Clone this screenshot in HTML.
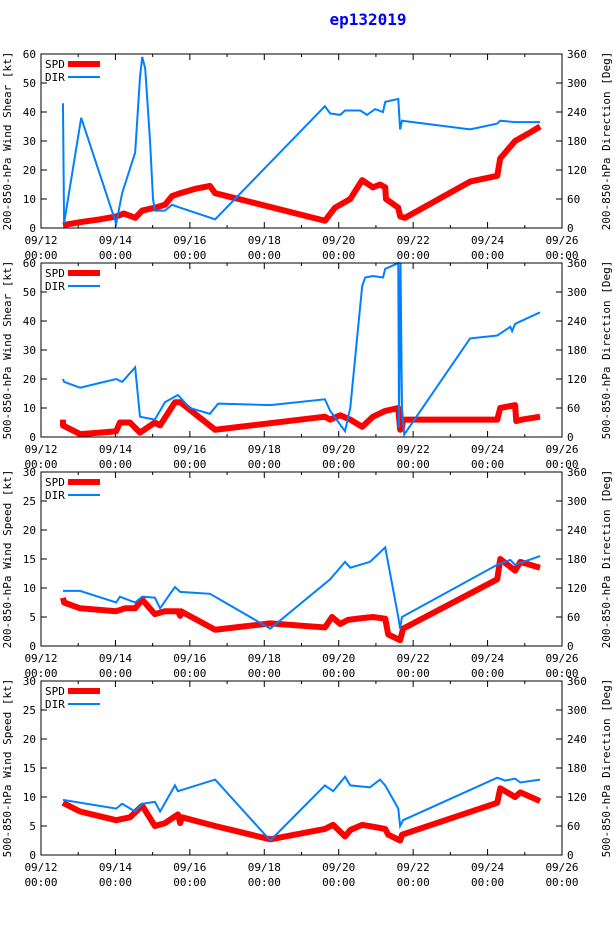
<!DOCTYPE html>
<html><head><meta charset="utf-8"><style>
body{margin:0;background:#fff}
svg{display:block;font-family:"DejaVu Sans Mono","Liberation Mono",monospace}
</style></head><body>
<svg id="c" width="614" height="936">
<text x="368" y="25" text-anchor="middle" font-size="16" font-weight="bold" fill="#0000ff">ep132019</text>
</svg>
<script>
const xTickLabels=["09/12","09/14","09/16","09/18","09/20","09/22","09/24","09/26"];
const p1SpdT=[0.59,1.05,1.59,2.02,2.23,2.53,2.72,3.06,3.33,3.52,3.74,4.14,4.54,4.68,5.62,7.63,7.9,8.31,8.63,8.92,9.11,9.25,9.27,9.6,9.65,9.78,11.53,12.26,12.34,12.74,13.15,13.41];
const p1SpdV=[1,2,3,4,5,3.5,6,7,8,11,12,13.5,14.5,12,9,2.5,7,10,16.5,14,15,14,10,7,4,3.5,16,18,24,30,33,35];
const p1DirT=[0.59,0.62,1.08,2.02,2.18,2.53,2.66,2.72,2.80,2.93,3.01,3.06,3.33,3.52,3.74,4.68,7.63,7.77,8.04,8.17,8.58,8.76,8.98,9.19,9.25,9.6,9.65,9.7,11.53,12.26,12.34,12.74,13.41];
const p1DirV=[258,10,228,9,72,156,312,354,330,180,60,36,36,48,42,18,252,237,234,243,243,234,246,240,261,267,204,222,204,216,222,219,219];
const p2SpdT=[0.59,0.59,1.05,1.59,2.02,2.12,2.39,2.66,3.06,3.2,3.6,3.74,4.68,7.63,7.77,8.04,8.31,8.63,8.92,9.25,9.6,9.65,9.7,9.73,11.53,12.26,12.34,12.74,12.77,12.93,13.41];
const p2SpdV=[6,4,1,1.5,2,5,5,1.5,5,4,12,12,2.5,7,6,7.5,6,3.5,7,9,10,2.5,3,6,6,6,10,11,5.5,6,7];
const p2DirT=[0.59,0.62,1.05,2.02,2.18,2.53,2.66,3.06,3.33,3.68,4.0,4.54,4.76,6.16,7.63,7.77,8.17,8.31,8.63,8.71,8.92,9.19,9.25,9.52,9.6,9.62,9.66,9.7,9.76,11.53,12.26,12.61,12.66,12.74,13.41];
const p2DirV=[120,114,102,120,114,144,42,36,72,87,60,48,69,66,78,54,12,60,312,330,333,330,348,357,360,20,360,60,5,204,210,228,219,234,258];
const p3SpdT=[0.59,0.62,1.05,2.02,2.26,2.53,2.72,3.06,3.33,3.68,3.74,3.76,4.68,6.16,7.63,7.82,8.04,8.25,8.63,8.92,9.25,9.33,9.65,9.73,12.26,12.34,12.74,12.88,13.41];
const p3SpdV=[8.3,7.5,6.5,6,6.5,6.5,8,5.5,6,6,5.2,6,2.8,3.9,3.2,5,3.8,4.5,4.8,5,4.7,2,1,3,11.5,15,13,14.5,13.5];
const p3DirT=[0.59,1.05,2.02,2.12,2.53,2.72,3.06,3.2,3.47,3.6,3.74,4.54,5.08,6.16,7.77,8.17,8.31,8.84,9.25,9.6,9.65,9.7,12.26,12.61,12.74,13.41];
const p3DirV=[114,114,90,102,90,102,100,78,108,122,112,108,84,36,138,174,162,174,204,60,36,60,168,178,168,186];
const p4SpdT=[0.59,1.05,2.02,2.39,2.72,3.06,3.33,3.68,3.74,3.79,4.68,6.16,7.63,7.85,8.17,8.31,8.63,9.25,9.33,9.65,9.7,12.26,12.34,12.74,12.88,13.41];
const p4SpdV=[9,7.5,6,6.5,8.5,5,5.5,7,5.5,6.5,5,2.7,4.5,5.2,3.2,4.3,5.2,4.5,3.5,2.5,3.5,9,11.5,10,10.8,9.3];
const p4DirT=[0.59,2.02,2.18,2.53,2.72,3.06,3.2,3.6,3.68,4.68,6.16,7.63,7.85,8.17,8.31,8.84,9.11,9.25,9.6,9.65,9.73,12.26,12.47,12.74,12.88,13.41];
const p4DirV=[114,96,106,90,106,110,90,144,132,156,30,144,132,162,144,140,156,144,96,60,72,160,154,158,150,156];
const panels=[
 {top:54,lmax:60,lstep:10,yl:"200-850-hPa Wind Shear [kt]",yr:"200-850-hPa Direction [Deg]",st:p1SpdT,sv:p1SpdV,dt:p1DirT,dv:p1DirV},
 {top:263,lmax:60,lstep:10,yl:"500-850-hPa Wind Shear [kt]",yr:"500-850-hPa Direction [Deg]",st:p2SpdT,sv:p2SpdV,dt:p2DirT,dv:p2DirV},
 {top:472,lmax:30,lstep:5,yl:"200-850-hPa Wind Speed [kt]",yr:"200-850-hPa Direction [Deg]",st:p3SpdT,sv:p3SpdV,dt:p3DirT,dv:p3DirV},
 {top:681,lmax:30,lstep:5,yl:"500-850-hPa Wind Speed [kt]",yr:"500-850-hPa Direction [Deg]",st:p4SpdT,sv:p4SpdV,dt:p4DirT,dv:p4DirV}];
const NS="http://www.w3.org/2000/svg",svg=document.getElementById("c");
const L=41,R=562,H=174;
function X(d){return L+d*(R-L)/14;}
function mk(tag,at,par){const e=document.createElementNS(NS,tag);for(const k in at)e.setAttribute(k,at[k]);(par||svg).appendChild(e);return e;}
panels.forEach((p,i)=>{
 const g=mk("g",{});
 
 
 const B=p.top+H;
 const yL=v=>B-v/p.lmax*H, yR=v=>B-v/360*H;
 for(let d=0;d<=14;d++){const x=X(d),len=d%2?3:6;
  mk("line",{x1:x,y1:B,x2:x,y2:B-len,stroke:"#000"},g);mk("line",{x1:x,y1:p.top,x2:x,y2:p.top+len,stroke:"#000"},g);}
 xTickLabels.forEach((t,k)=>{const x=X(k*2);
  const a=mk("text",{x:x,y:B+16,"text-anchor":"middle","font-size":11},g);a.textContent=t;
  
  
  const b=mk("text",{x:x,y:B+31,"text-anchor":"middle","font-size":11},g);b.textContent="00:00";});
 for(let v=0;v<=p.lmax;v+=p.lstep){const y=yL(v);mk("line",{x1:L,y1:y,x2:L+6,y2:y,stroke:"#000"},g);
  const t=mk("text",{x:L-5,y:y+4,"text-anchor":"end","font-size":11},g);t.textContent=v;
  
  }
 for(let v=0;v<=360;v+=60){const y=yR(v);mk("line",{x1:R,y1:y,x2:R-6,y2:y,stroke:"#000"},g);
  const t=mk("text",{x:R+5,y:y+4,"font-size":11},g);t.textContent=v;
  
  }
 const cy=p.top+H/2;
 const yl=mk("text",{x:0,y:0,"text-anchor":"middle","font-size":11,transform:`translate(11,${cy}) rotate(-90)`},g);yl.textContent=p.yl;
 
 
 const yr=mk("text",{x:0,y:0,"text-anchor":"middle","font-size":11,transform:`translate(610,${cy}) rotate(-90)`},g);yr.textContent=p.yr;
 
 
 const sp=mk("polyline",{points:p.st.map((t,k)=>X(t)+","+yL(p.sv[k])).join(" "),fill:"none",stroke:"#ff0000","stroke-width":6,"stroke-linejoin":"round"},g);
 
 
 const dr=mk("polyline",{points:p.dt.map((t,k)=>X(t)+","+yR(p.dv[k])).join(" "),fill:"none",stroke:"#0080ff","stroke-width":2},g);
 
 
 mk("rect",{x:L,y:p.top,width:R-L,height:H,fill:"none",stroke:"#000"},g);
 const l1=mk("text",{x:45,y:p.top+14,"font-size":11},g);l1.textContent="SPD";
 
 
 mk("line",{x1:68,y1:p.top+10,x2:100,y2:p.top+10,stroke:"#ff0000","stroke-width":6},g);
 const l2=mk("text",{x:45,y:p.top+27,"font-size":11},g);l2.textContent="DIR";
 
 
 mk("line",{x1:68,y1:p.top+23,x2:100,y2:p.top+23,stroke:"#0080ff","stroke-width":2},g);
});
</script>
</body></html>
